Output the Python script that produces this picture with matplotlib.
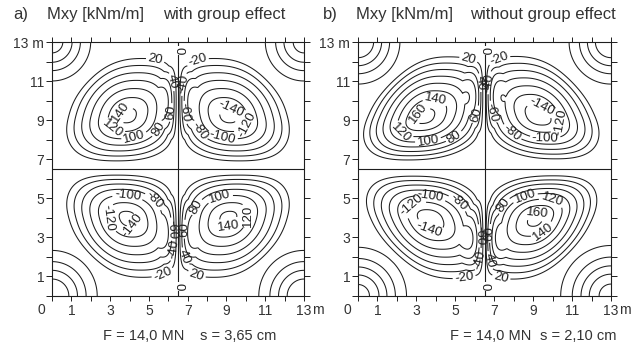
import numpy as np
import matplotlib.pyplot as plt

plt.rcParams['font.family'] = ['Liberation Sans', 'DejaVu Sans']

# ---------------- data ----------------
plate_len = 13.0
levels = [-160, -140, -120, -100, -80, -60, -40, -20, 20, 40, 60, 80, 100, 120, 140, 160]

title_tags = ['a)', 'b)']
title_qty = ['Mxy [kNm/m]', 'Mxy [kNm/m]']
title_case = ['with group effect', 'without group effect']
cap_force = ['F = 14,0 MN', 'F = 14,0 MN']
cap_settle = ['s = 3,65 cm', 's = 2,10 cm']

# moment lobes, quadrant order: top-left, top-right, bottom-left, bottom-right
a_lobe_x = [3.9, 9.1, 3.9, 9.1]
a_lobe_y = [9.2, 9.2, 4.0, 4.0]
a_lobe_peak = [150, -150, -150, 150]
a_reach_left = [3.4, 3.5, 3.4, 3.5]
a_reach_right = [3.5, 3.4, 3.5, 3.4]
a_reach_down = [2.7, 2.7, 3.4, 3.4]
a_reach_up = [3.3, 3.3, 2.7, 2.7]
a_shear = [0.25, -0.25, -0.25, 0.25]

b_lobe_x = [3.4, 9.3, 3.7, 9.15]
b_lobe_y = [9.15, 9.2, 3.95, 3.95]
b_lobe_peak = [172, -157, -157, 170]
b_reach_left = [3.2, 3.6, 3.4, 3.6]
b_reach_right = [3.9, 3.2, 3.6, 3.2]
b_reach_down = [2.5, 2.5, 3.4, 3.4]
b_reach_up = [3.4, 3.4, 2.6, 2.6]
b_shear = [0.4, -0.4, -0.4, 0.4]

# corner values (top-left, top-right, bottom-left, bottom-right)
corner_x = [0.0, 13.0, 0.0, 13.0]
corner_y = [13.0, 13.0, 0.0, 0.0]
a_corner_val = [-90, 90, 100, -100]
a_corner_size = [1.15, 1.15, 1.3, 1.3]
b_corner_val = [-100, 100, 110, -110]
b_corner_size = [1.2, 1.2, 1.35, 1.4]

# contour label positions (level, x, y)
a_lab_level = [20, -20, 40, -40, 60, -60, 140, 120, 100, 80, -140, -120, -100, -80,
               -100, -80, -60, -40, -20, 20, 40, 60, 80, 100, -120, -140, 140, 120]
a_lab_x = [5.3, 7.5, 6.0, 7.0, 6.1, 6.9, 3.35, 3.0, 4.2, 5.2, 9.3, 10.0, 8.8, 7.8,
           3.9, 4.9, 5.8, 6.0, 5.7, 7.4, 7.1, 7.1, 7.8, 8.7, 2.65, 4.2, 9.2, 10.6]
a_lab_y = [12.0, 12.1, 10.9, 10.8, 9.4, 9.4, 9.6, 8.4, 8.3, 8.7, 9.7, 8.8, 8.2, 8.6,
           5.0, 4.5, 3.4, 2.4, 1.1, 0.8, 2.1, 3.4, 4.4, 5.0, 3.9, 3.0, 3.0, 4.05]

b_lab_level = [20, -20, 40, -40, 60, -60, 160, 140, 120, 100, 80, -80, -100, -140, -120,
               -120, -100, -80, -140, -60, -40, -20, 20, 40, 60, 80, 100, 120, 160, 140]
b_lab_x = [5.65, 7.3, 5.95, 6.85, 5.95, 6.9, 2.9, 4.0, 2.2, 3.6, 4.8, 7.9, 9.6, 9.6, 10.6,
           2.3, 3.7, 4.9, 3.5, 5.8, 5.85, 5.5, 7.3, 6.9, 6.9, 7.6, 8.6, 10.0, 9.25, 9.8]
b_lab_y = [12.0, 12.0, 10.9, 10.9, 9.3, 9.4, 9.5, 10.1, 8.35, 8.0, 8.35, 8.35, 7.9, 10.05, 8.9,
           5.3, 5.0, 4.5, 3.0, 3.05, 1.95, 0.65, 0.7, 1.85, 3.2, 4.55, 5.0, 5.1, 4.05, 2.9]

# zero-line labels on the centre line (x, y)
zero_lab_x = [6.5, 6.5]
zero_lab_y = [12.55, 0.5]

tick_vals = list(range(0, 14))
x_tick_text = ['', '1', '', '3', '', '5', '', '7', '', '9', '', '11', '', '13']
y_tick_text = ['', '1', '', '3', '', '5', '', '7', '', '9', '', '11', '', '13 m']

panels = [
    dict(lx=a_lobe_x, ly=a_lobe_y, lp=a_lobe_peak, rl=a_reach_left, rr=a_reach_right,
         rd=a_reach_down, ru=a_reach_up, sh=a_shear, cv=a_corner_val, cs=a_corner_size,
         labl=a_lab_level, labx=a_lab_x, laby=a_lab_y),
    dict(lx=b_lobe_x, ly=b_lobe_y, lp=b_lobe_peak, rl=b_reach_left, rr=b_reach_right,
         rd=b_reach_down, ru=b_reach_up, sh=b_shear, cv=b_corner_val, cs=b_corner_size,
         labl=b_lab_level, labx=b_lab_x, laby=b_lab_y),
]


def moment_field(X, Y, p):
    c = plate_len / 2
    sgn = np.tanh((X - c) / 0.5) * np.tanh((Y - c) / 0.5)
    g = np.zeros_like(X)
    n = 2.3
    for k in range(4):
        cx, cy, pk = p['lx'][k], p['ly'][k], p['lp'][k]
        m = pk * np.sign((cx - c) * (cy - c))
        dy = Y - cy
        dx = X - cx - p['sh'][k] * dy
        ax_ = np.where(dx < 0, p['rl'][k], p['rr'][k])
        ay_ = np.where(dy < 0, p['rd'][k], p['ru'][k])
        r = (np.abs(dx / ax_) ** n + np.abs(dy / ay_) ** n) ** (1 / n)
        g += m * np.clip(1 - r ** 1.3, 0, None)
    for kx, ky, kv, ks in zip(corner_x, corner_y, p['cv'], p['cs']):
        m = kv * np.sign((kx - c) * (ky - c))
        r2 = (X - kx) ** 2 + (Y - ky) ** 2
        g += m * np.exp(-0.5 * r2 / ks ** 2)
    return sgn * g


def snap_to_level(cs, lev, x, y):
    k = list(cs.levels).index(lev)
    segs = [s for s in cs.allsegs[k] if len(s)]
    if not segs:
        return None
    pts = np.vstack(segs)
    d = (pts[:, 0] - x) ** 2 + (pts[:, 1] - y) ** 2
    j = int(np.argmin(d))
    return (pts[j, 0], pts[j, 1])


fig = plt.figure(figsize=(6.37, 3.47), dpi=100)
ink = '#1e1e1e'
txt = '#333333'
ax_rects = [[52 / 637, 51 / 347, 252 / 637, 254 / 347],
            [358 / 637, 51 / 347, 253 / 637, 254 / 347]]
title_px = [(13, 47, 163), (323, 356, 470)]
cap_px = [(103, 200), (450, 540)]

xs = np.linspace(0, plate_len, 301)
XX, YY = np.meshgrid(xs, xs)

for i, p in enumerate(panels):
    ax = fig.add_axes(ax_rects[i])
    ax.set_xlim(0, plate_len)
    ax.set_ylim(0, plate_len)
    Z = moment_field(XX, YY, p)
    cs = ax.contour(XX, YY, Z, levels=levels, colors=ink, linewidths=0.75,
                    linestyles='solid')
    spots = []
    for lev, lx, ly in zip(p['labl'], p['labx'], p['laby']):
        pt = snap_to_level(cs, lev, lx, ly)
        if pt is not None:
            spots.append(pt)
    cs.clabel(manual=spots, fmt='%d', fontsize=9.5, inline=True, inline_spacing=2,
              colors=ink)
    ax.axhline(plate_len / 2, color=ink, lw=0.8)
    ax.axvline(plate_len / 2, color=ink, lw=0.8)
    for zx, zy in zip(zero_lab_x, zero_lab_y):
        ax.text(zx, zy, '0', rotation=-90, ha='center', va='center', fontsize=9.5,
                color=ink, bbox=dict(boxstyle='square,pad=0.05', fc='white', ec='none'))
    ax.set_xticks(tick_vals)
    ax.set_xticklabels(x_tick_text)
    ax.set_yticks(tick_vals)
    ax.set_yticklabels(y_tick_text)
    ax.tick_params(axis='both', direction='out', length=3.5, width=0.7, color=ink,
                   labelsize=10, labelcolor=txt, pad=2,
                   top=True, right=True)
    ax.tick_params(axis='y', length=4.5, pad=1)
    for s in ax.spines.values():
        s.set_linewidth(0.8)
        s.set_color(ink)
    ax.annotate('0', xy=(0, 0), xycoords='data', xytext=(-7.5, -5),
                textcoords='offset points', ha='center', va='top', fontsize=10,
                color=txt)
    ax.annotate('m', xy=(13, 0), xycoords='data', xytext=(6, -5),
                textcoords='offset points', ha='left', va='top', fontsize=10,
                color=txt)
    tx = title_px[i]
    for xpx, s in zip(tx, (title_tags[i], title_qty[i], title_case[i])):
        fig.text(xpx / 637, 1 - 14 / 347, s, ha='left', va='center', fontsize=12,
                 color=txt)
    cx_ = cap_px[i]
    for xpx, s in zip(cx_, (cap_force[i], cap_settle[i])):
        fig.text(xpx / 637, 1 - 336 / 347, s, ha='left', va='center', fontsize=10.5,
                 color=txt)

fig.savefig('out.png', dpi=100, facecolor='white')
